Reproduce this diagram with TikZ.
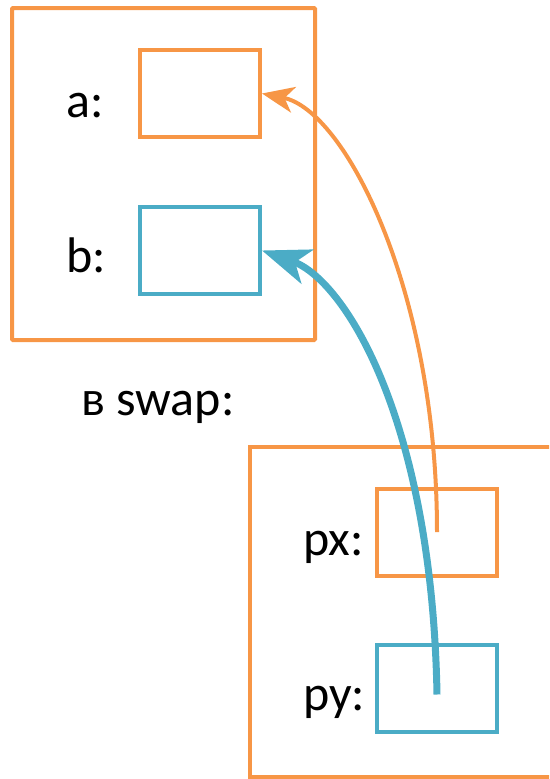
\documentclass[tikz,border=0pt]{standalone}
\usepackage{fontspec}
\setmainfont{Carlito}
\usetikzlibrary{arrows.meta}
\definecolor{frameorange}{HTML}{F79646}
\definecolor{cellblue}{HTML}{4BACC6}

\tikzset{
  cell/.style={draw, line width=4pt, minimum width=120pt, minimum height=87pt, inner sep=0pt},
  lbl/.style={font=\fontsize{50}{60}\selectfont, inner sep=0pt, anchor=base west},
}

\begin{document}
\begin{tikzpicture}[x=1pt, y=-1pt]
\useasboundingbox (0,0) rectangle (549,779);

% frame of main
\draw[frameorange, line width=4pt, rounded corners=1pt] (12,8) rectangle (315,340);

\node[cell, draw=frameorange] (a) at (200,93.5){};
\node[cell, draw=cellblue] (b) at (200,250.5){};
\node[lbl] (alabel) at (66,117){a:};
\node[lbl] (blabel) at (66,272){b:};

\node[lbl] (swaplabel) at (81,415){в swap:};

% frame of swap, cut at the right and bottom
\begin{scope}
\clip (0,0) rectangle (549,779);
\draw[frameorange, line width=3.5pt] (250,447) rectangle (590,777);
\end{scope}

\node[cell, draw=frameorange] (px) at (437,532){};
\node[cell, draw=cellblue] (py) at (437,688.5){};
\node[lbl] (pxlabel) at (303,555){px:};
\node[lbl] (pylabel) at (303,710){py:};

\draw[frameorange, line width=4pt, -{Stealth[length=32pt, width=26pt, inset=9pt]}]
  (px.center) .. controls (437,290) and (345,110) .. (a.east);
\draw[cellblue, line width=7pt, -{Stealth[length=48pt, width=36pt, inset=13pt]}]
  ([yshift=-6pt]py.center) .. controls (432,420) and (345,280) .. (b.east);
\end{tikzpicture}
\end{document}
